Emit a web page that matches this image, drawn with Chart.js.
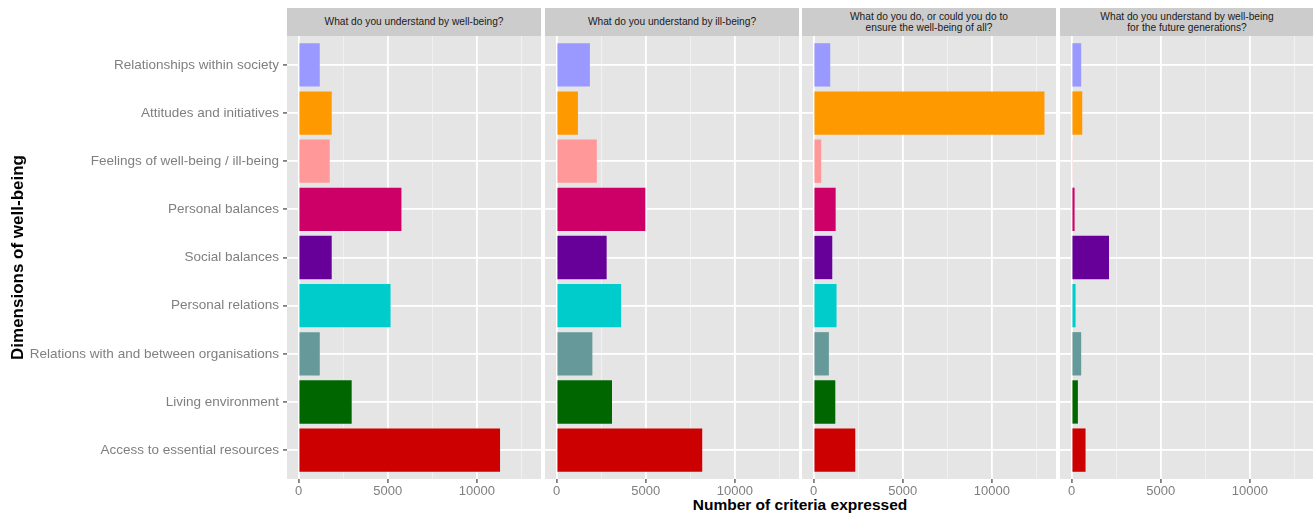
<!DOCTYPE html>
<html>
<head>
<meta charset="utf-8">
<script src="https://cdn.jsdelivr.net/npm/chart.js@4"></script>
<style>
  body { margin: 0; background: #fff; font-family: "Liberation Sans", Arial, sans-serif; }
  #wrap { position: relative; width: 1313px; height: 515px; overflow: hidden; }
  .panel { position: absolute; top: 36px; height: 479px; }
  .strip { position: absolute; top: 8px; height: 28px; background: #ccc; color: #1a1a1a;
           font-size: 10.2px; line-height: 11.5px; display: flex; align-items: center;
           justify-content: center; text-align: center; white-space: pre-line; }
  #xtitle { position: absolute; left: 287px; width: 1026px; top: 496px; text-align: center;
            font-weight: bold; font-size: 15.5px; line-height: 18px; color: #000; }
</style>
</head>
<body>
<div id="wrap">
  <div id="xtitle">Number of criteria expressed</div>
</div>
<script>
// data
let categories = ["Relationships within society", "Attitudes and initiatives", "Feelings of well-being / ill-being",
  "Personal balances", "Social balances", "Personal relations", "Relations with and between organisations",
  "Living environment", "Access to essential resources"];
let barColors = ["#9999FF", "#FF9900", "#FF9999", "#CC0066", "#660099", "#00CCCC", "#669999", "#006600", "#CC0000"];
let questions = ["What do you understand by well-being?",
  "What do you understand by ill-being?",
  "What do you do, or could you do to\nensure the well-being of all?",
  "What do you understand by well-being\nfor the future generations?"];
let wellBeing = [1190, 1860, 1750, 5770, 1860, 5160, 1190, 2980, 11300];
let illBeing = [1870, 1200, 2260, 4980, 2810, 3620, 2010, 3110, 8170];
let wellBeingOfAll = [935, 12950, 430, 1240, 1050, 1290, 860, 1220, 2340];
let futureGenerations = [540, 600, 40, 170, 2100, 225, 540, 355, 785];
let xTicks = [0, 5000, 10000];
let xMinorTicks = [2500, 7500, 12500];

// layout of the four facets
let panelLeft = [287, 545, 802, 1060];
let panelWidth = 254;
let wrap = document.getElementById("wrap");

Chart.defaults.font.family = '"Liberation Sans", Arial, sans-serif';

// grey panel background
const panelBg = {
  id: "panelBg",
  beforeDraw(chart) {
    const a = chart.chartArea;
    const ctx = chart.ctx;
    ctx.save();
    ctx.fillStyle = "#e5e5e5";
    ctx.fillRect(a.left, a.top, a.right - a.left, a.bottom - a.top);
    ctx.restore();
  }
};

function isMajor(ctx) {
  return ctx.tick && xTicks.includes(ctx.tick.value);
}

function makePanel(i, values) {
  let first = i === 0;

  let strip = document.createElement("div");
  strip.className = "strip";
  strip.style.left = panelLeft[i] + "px";
  strip.style.width = panelWidth + "px";
  strip.textContent = questions[i];
  wrap.appendChild(strip);

  let box = document.createElement("div");
  box.className = "panel";
  box.style.left = (first ? 0 : panelLeft[i]) + "px";
  box.style.width = (first ? panelLeft[0] + panelWidth : panelWidth) + "px";
  let canvas = document.createElement("canvas");
  box.appendChild(canvas);
  wrap.appendChild(box);

  new Chart(canvas, {
    type: "bar",
    data: {
      datasets: [{
        data: values.map((v, k) => ({ x: v, y: k })),
        backgroundColor: barColors,
        barPercentage: 0.9,
        categoryPercentage: 1
      }]
    },
    plugins: [panelBg],
    options: {
      indexAxis: "y",
      responsive: true,
      maintainAspectRatio: false,
      animation: false,
      layout: { padding: 0, autoPadding: false },
      plugins: { legend: { display: false }, tooltip: { enabled: false } },
      scales: {
        x: {
          type: "linear",
          min: -647.5,
          max: 13597.5,
          afterBuildTicks: s => { s.ticks = xTicks.concat(xMinorTicks).map(v => ({ value: v })); },
          afterFit: s => { s.height = 36; s.paddingLeft = 0; s.paddingRight = 0; },
          border: { display: false },
          grid: {
            color: c => isMajor(c) ? "#ffffff" : "#f2f2f2",
            lineWidth: c => isMajor(c) ? 1.8 : 0.9,
            tickColor: c => isMajor(c) ? "#7f7f7f" : "rgba(0,0,0,0)",
            tickLength: 4
          },
          ticks: {
            color: "#7f7f7f",
            font: { size: 13 },
            padding: 1,
            autoSkip: false,
            maxRotation: 0,
            callback: v => xTicks.includes(v) ? String(v) : ""
          }
        },
        y: {
          type: "linear",
          reverse: true,
          offset: false,
          min: -0.6,
          max: 8.6,
          afterBuildTicks: s => { s.ticks = categories.map((c, k) => ({ value: k })); },
          afterFit: s => { s.width = first ? panelLeft[0] : 0; s.paddingTop = 0; s.paddingBottom = 0; },
          border: { display: false },
          grid: { offset: false, color: "#ffffff", lineWidth: 1.8, tickColor: "#7f7f7f", tickLength: 4, drawTicks: first },
          ticks: {
            display: first,
            color: "#7f7f7f",
            font: { size: 13.5 },
            padding: 4,
            autoSkip: false,
            callback: v => categories[v]
          },
          title: {
            display: first,
            text: "Dimensions of well-being",
            color: "#000",
            font: { size: 17, weight: "bold" },
            padding: { top: 8, bottom: 0 }
          }
        }
      }
    }
  });
}

makePanel(0, wellBeing);
makePanel(1, illBeing);
makePanel(2, wellBeingOfAll);
makePanel(3, futureGenerations);
</script>
</body>
</html>
